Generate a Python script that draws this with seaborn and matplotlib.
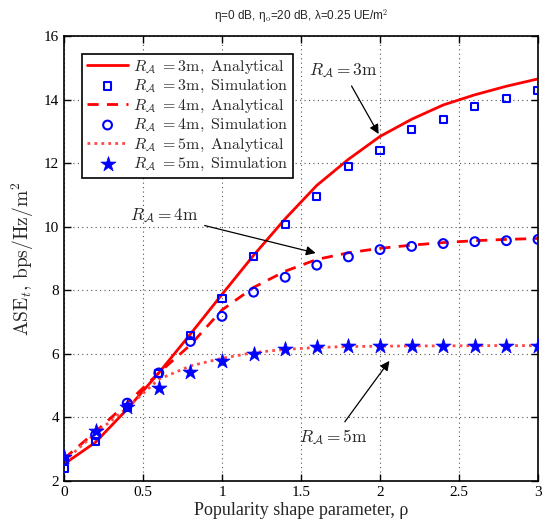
import numpy as np
import pandas as pd
import matplotlib
matplotlib.use("Agg")
import matplotlib.pyplot as plt
import seaborn as sns

rho = [0.0, 0.2, 0.4, 0.6, 0.8, 1.0, 1.2, 1.4, 1.6, 1.8, 2.0, 2.2, 2.4, 2.6, 2.8, 3.0]

ana_r3 = [2.53, 3.22, 4.26, 5.40, 6.62, 7.87, 9.10, 10.25, 11.30, 12.12, 12.84, 13.38, 13.83, 14.15, 14.42, 14.65]
sim_r3 = [2.40, 3.25, 4.30, 5.39, 6.59, 7.73, 9.07, 10.08, 10.95, 11.89, 12.39, 13.05, 13.36, 13.78, 14.03, 14.28]

ana_r4 = [2.70, 3.55, 4.45, 5.40, 6.28, 7.38, 8.09, 8.60, 8.97, 9.18, 9.32, 9.42, 9.50, 9.56, 9.60, 9.63]
sim_r4 = [2.65, 3.45, 4.45, 5.40, 6.39, 7.18, 7.94, 8.41, 8.79, 9.05, 9.28, 9.38, 9.47, 9.53, 9.56, 9.60]

ana_r5 = [2.62, 3.50, 4.30, 5.20, 5.62, 5.86, 6.04, 6.14, 6.20, 6.23, 6.24, 6.25, 6.25, 6.26, 6.26, 6.26]
sim_r5 = [2.75, 3.58, 4.33, 4.94, 5.43, 5.79, 6.01, 6.14, 6.23, 6.25, 6.26, 6.26, 6.26, 6.26, 6.26, 6.26]

xticks = [0, 0.5, 1, 1.5, 2, 2.5, 3]
xticklabels = ["0", "0.5", "1", "1.5", "2", "2.5", "3"]
yticks = [2, 4, 6, 8, 10, 12, 14, 16]

sns.set_style("ticks")
plt.rcParams["font.family"] = ["Liberation Serif", "DejaVu Serif"]
plt.rcParams["mathtext.fontset"] = "cm"

fig = plt.figure(figsize=(5.44, 5.21), dpi=100)
ax = fig.add_axes([0.1176, 0.0768, 0.8714, 0.8541])

df = pd.DataFrame({"rho": rho, "a3": ana_r3, "s3": sim_r3, "a4": ana_r4,
                   "s4": sim_r4, "a5": ana_r5, "s5": sim_r5})

lab = lambda r, k: r"$R_{\mathcal{A}}\ \mathrm{=%dm,\ %s}$" % (r, k)

sns.lineplot(data=df, x="rho", y="a3", ax=ax, color="red", lw=2, linestyle="-",
             label=lab(3, "Analytical"))
sns.scatterplot(data=df, x="rho", y="s3", ax=ax, marker="s", s=26,
                facecolors="none", edgecolor="blue", linewidth=1.5,
                label=lab(3, "Simulation"), zorder=5)
sns.lineplot(data=df, x="rho", y="a4", ax=ax, color="red", lw=2,
             linestyle=(0, (4, 3)), label=lab(4, "Analytical"))
sns.scatterplot(data=df, x="rho", y="s4", ax=ax, marker="o", s=40,
                facecolors="none", edgecolor="blue", linewidth=1.5,
                label=lab(4, "Simulation"), zorder=5)
sns.lineplot(data=df, x="rho", y="a5", ax=ax, color="#ff4848", lw=2,
             linestyle=(0, (1, 1.5)), label=lab(5, "Analytical"))
sns.scatterplot(data=df, x="rho", y="s5", ax=ax, marker="*", s=130,
                color="blue", edgecolor="blue", linewidth=0.5,
                label=lab(5, "Simulation"), zorder=5)

ax.set_xlim(0, 3)
ax.set_ylim(2, 16)
ax.set_xticks(xticks)
ax.set_xticklabels(xticklabels)
ax.set_yticks(yticks)
ax.tick_params(direction="in", top=True, right=True, labelsize=11, length=5,
               width=1, colors="black")
for sp in ax.spines.values():
    sp.set_visible(True)
    sp.set_linewidth(1.2)
    sp.set_color("black")
ax.grid(True, linestyle=(0, (1, 3)), color="#555555", linewidth=0.8)

ax.set_xlabel("Popularity shape parameter, ρ", fontsize=13, labelpad=2)
ax.set_ylabel(r"$\mathrm{ASE}_t\mathrm{,\,bps/Hz/m}^2$", fontsize=14, labelpad=6)
ax.set_title(r"η=0 dB, η$_\mathrm{o}$=20 dB, λ=0.25 UE/m$^2$",
             fontsize=8.5, family=["Liberation Sans", "DejaVu Sans"], pad=12)

leg = ax.legend(loc="upper left", bbox_to_anchor=(0.038, 0.96), fontsize=11.5,
                frameon=True, fancybox=False, edgecolor="black",
                framealpha=1, borderpad=0.3, labelspacing=0.15,
                handlelength=2.6, handletextpad=0.3, borderaxespad=0)
leg.get_frame().set_linewidth(1.2)

arrow = dict(arrowstyle="-|>", color="black", lw=0.9, mutation_scale=14)
ax.annotate(r"$R_{\mathcal{A}}\mathrm{=3m}$", xy=(2.0, 12.84), xytext=(1.55, 14.9),
            fontsize=12.5, arrowprops=arrow, ha="left", va="center")
ax.annotate(r"$R_{\mathcal{A}}\mathrm{=4m}$", xy=(1.61, 9.15), xytext=(0.42, 10.35),
            fontsize=12.5, arrowprops=arrow, ha="left", va="center")
ax.annotate(r"$R_{\mathcal{A}}\mathrm{=5m}$", xy=(2.07, 5.85), xytext=(1.49, 3.38),
            fontsize=12.5, arrowprops=arrow, ha="left", va="center")

fig.savefig("out.png", dpi=100)
